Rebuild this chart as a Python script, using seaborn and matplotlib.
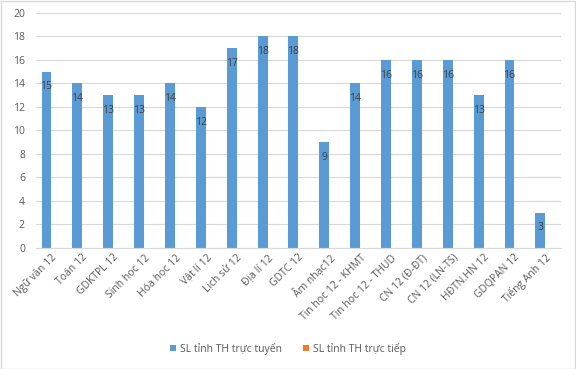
import pandas as pd
import matplotlib.pyplot as plt
import seaborn as sns

# Data
subjects = ['Ngữ văn 12', 'Toán 12', 'GDKTPL 12', 'Sinh học 12', 'Hóa học 12', 'Vật lí 12',
            'Lịch sử 12', 'Địa lí 12', 'GDTC 12', 'Âm nhạc12', 'Tin học 12 - KHMT',
            'Tin học 12 - THUD', 'CN 12 (Đ-ĐT)', 'CN 12 (LN-TS)', 'HĐTN.HN 12',
            'GDQPAN 12', 'Tiếng Anh 12']
online = [15, 14, 13, 13, 14, 12, 17, 18, 18, 9, 14, 16, 16, 16, 13, 16, 3]
offline = [0] * len(subjects)
series = ['SL tỉnh TH trực tuyến', 'SL tỉnh TH trực tiếp']

df = pd.DataFrame({
    'subject': subjects * 2,
    'value': online + offline,
    'series': [series[0]] * len(subjects) + [series[1]] * len(subjects),
})

sns.set_style("white")
plt.rcParams['font.family'] = ['Open Sans', 'DejaVu Sans']
grey = '#595959'

fig = plt.figure(figsize=(5.76, 3.69), dpi=100)
ax = fig.add_axes([0.0625, 0.328, 0.911, 0.637])

sns.barplot(data=df, x='subject', y='value', hue='series',
            palette=['#5b9bd5', '#ed7d31'], width=0.64, ax=ax,
            saturation=1, linewidth=0, legend=True)

ax.set_ylim(0, 20)
ax.set_yticks(range(0, 21, 2))
ax.set_xlim(-0.5, len(subjects) - 0.5)
ax.grid(axis='y', color='#d9d9d9', linewidth=0.8)
ax.set_axisbelow(True)
for s in ['top', 'right', 'left']:
    ax.spines[s].set_visible(False)
ax.spines['bottom'].set_color('#d9d9d9')
ax.set_xlabel('')
ax.set_ylabel('')
ax.tick_params(axis='both', length=0, labelsize=7.5, colors=grey, pad=3)
ax.tick_params(axis='y', pad=8)
ax.set_xticks(range(len(subjects)))
ax.set_xticklabels(subjects, rotation=45, ha='right', rotation_mode='anchor')

# Data labels inside the blue bars
blue = ax.containers[0]
for bar, v in zip(blue, online):
    ax.annotate(str(v), (bar.get_x() + bar.get_width() / 2, v),
                xytext=(0, -11), textcoords='offset points',
                ha='center', va='center', fontsize=7.5, color='#404040')

handles, labels = ax.get_legend_handles_labels()
ax.legend_.remove()
fig.legend(handles, labels, loc='center', bbox_to_anchor=(0.5, 0.055), ncol=2,
           frameon=False, fontsize=7.5, handlelength=0.6, handleheight=0.6,
           columnspacing=2.0, handletextpad=0.4, labelcolor=grey)

# light chart-area border
fig.patches.append(plt.Rectangle((0.001, 0.001), 0.997, 0.997, transform=fig.transFigure,
                                 fill=False, edgecolor='#d9d9d9', linewidth=1))

fig.savefig('out.png', dpi=100)
